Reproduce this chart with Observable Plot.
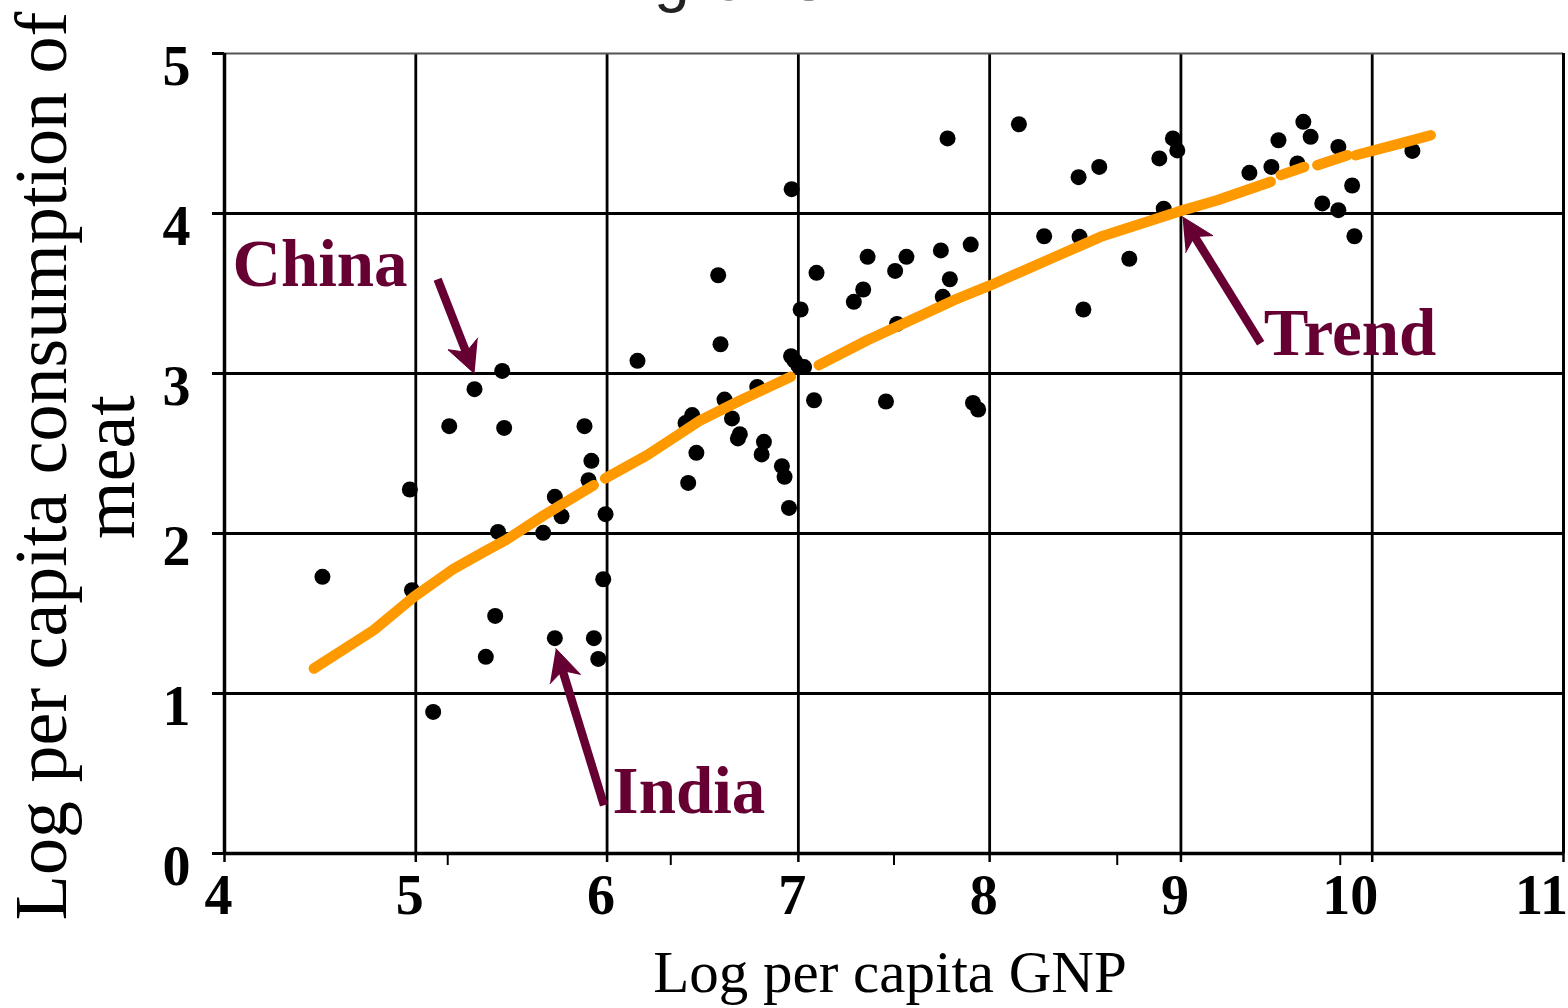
<!DOCTYPE html>
<html>
<head>
<meta charset="utf-8">
<script src="https://cdn.jsdelivr.net/npm/d3@7"></script>
<script src="https://cdn.jsdelivr.net/npm/@observablehq/plot@0.6"></script>
<style>
  html, body { margin: 0; padding: 0; background: #fff; }
  #wrap { position: relative; width: 1568px; height: 1008px; overflow: hidden; background: #fff; }
  #chart { position: absolute; left: 0; top: 0; }
  .lbl { position: absolute; white-space: nowrap; line-height: 1; color: #000; }
  .yt { font-family: "Liberation Serif", serif; font-size: 74px; transform: translate(-50%, -50%) rotate(-90deg); }
  #xtitle { font-family: "Liberation Serif", serif; font-size: 59px; transform: translateX(-50%); }
  #title { font-family: "Liberation Sans", sans-serif; font-size: 64px; color: #222; }
</style>
</head>
<body>
<div id="wrap">
  <div id="title" class="lbl" style="left:654px; top:-54px;">grows</div>
  <div id="chart"></div>
  <div class="lbl yt" style="left:41px; top:466px;">Log per capita consumption of</div>
  <div class="lbl yt" style="left:109px; top:467px;">meat</div>
  <div id="xtitle" class="lbl" style="left:890px; top:943px;">Log per capita GNP</div>
</div>
<script>
// ---- data ----
const xTicks = [4, 5, 6, 7, 8, 9, 10, 11];
const xLabelsA = [4, 5, 6, 7, 8, 9];
const xLabelsB = [10, 11];
const yTicks = [0, 1, 2, 3, 4, 5];
const xGrid = [5, 6, 7, 8, 9, 10];
const yGrid = [1, 2, 3, 4];
const secondaryTicks = [5.167, 6.333, 7.5, 8.667, 9.833];

const dotX = [5.452, 5.307, 6.159, 5.175, 5.462, 5.882, 6.445, 6.41, 4.969, 5.918,
  5.903, 5.992, 5.727, 5.762, 5.666, 5.43, 4.98, 4.512, 5.98, 5.415,
  5.727, 5.931, 5.366, 5.954, 5.091, 6.424, 6.467, 6.614, 6.653, 6.694,
  6.684, 6.82, 6.808, 6.914, 6.928, 6.951, 6.785, 7.082, 7.458, 7.913,
  7.94, 7.0, 6.98, 7.03, 6.965, 7.78, 8.153, 8.465, 8.573, 8.887,
  8.958, 8.981, 6.581, 7.095, 7.362, 7.565, 7.745, 7.901, 7.506, 7.792,
  7.339, 7.29, 7.012, 8.285, 8.73, 8.49, 6.593, 6.962, 7.516, 8.91,
  8.47, 7.755, 9.64, 9.51, 9.678, 9.823, 9.358, 9.473, 9.609, 10.21,
  9.895, 9.739, 9.823, 9.907];
const dotY = [3.016, 2.902, 3.079, 2.671, 2.660, 2.671, 2.74, 2.69, 2.275, 2.454,
  2.333, 2.121, 2.229, 2.108, 2.004, 2.01, 1.646, 1.729, 1.714, 1.485,
  1.346, 1.346, 1.229, 1.216, 0.885, 2.316, 2.504, 2.837, 2.719, 2.621,
  2.594, 2.573, 2.494, 2.421, 2.354, 2.16, 2.916, 2.833, 2.825, 2.816,
  2.775, 3.05, 3.08, 3.04, 4.152, 4.469, 4.558, 4.227, 4.291, 4.344,
  4.469, 4.394, 3.614, 3.629, 3.729, 3.729, 3.769, 3.806, 3.641, 3.589,
  3.525, 3.448, 3.4, 3.858, 3.717, 3.4, 3.183, 3.108, 3.31, 4.03,
  3.854, 3.479, 4.573, 4.458, 4.479, 4.416, 4.254, 4.291, 4.313, 4.391,
  4.175, 4.063, 4.021, 3.858];

const trendX = [4.467, 4.78, 4.99, 5.2, 5.356, 5.47, 5.67, 5.93,
  5.99, 6.21, 6.489, 6.698, 6.96,
  7.107, 7.36, 7.57, 7.813, 8.005, 8.301, 8.58, 8.981, 9.19, 9.469,
  9.522, 9.644,
  9.713, 9.87,
  9.913, 10.149, 10.306];
const trendY = [1.156, 1.396, 1.604, 1.781, 1.885, 1.958, 2.114, 2.302,
  2.344, 2.49, 2.708, 2.833, 2.979,
  3.052, 3.208, 3.323, 3.458, 3.552, 3.708, 3.854, 4.01, 4.083, 4.198,
  4.24, 4.291,
  4.302, 4.364,
  4.364, 4.438, 4.489];
const trendSeg = [1, 1, 1, 1, 1, 1, 1, 1,
  2, 2, 2, 2, 2,
  3, 3, 3, 3, 3, 3, 3, 3, 3, 3,
  4, 4,
  5, 5,
  6, 6, 6];

const noteText = ["China", "Trend", "India"];
const noteX = [4.042, 9.433, 6.029];
const noteY = [3.546, 3.115, 0.252];
const arrowX1 = [5.114, 9.417, 5.984];
const arrowY1 = [3.589, 3.189, 0.302];
const arrowX2 = [5.307, 9.008, 5.732];
const arrowY2 = [2.999, 3.979, 1.281];

// ---- chart ----
const maroon = "#660033";
const layout = {
  width: 1568, height: 1008,
  marginLeft: 224, marginRight: 5, marginTop: 53, marginBottom: 155,
  x: {domain: [4, 11]},
  y: {domain: [0, 5]}
};
const dots = dotX.map((x, i) => ({x, y: dotY[i]}));
const trend = trendX.map((x, i) => ({x, y: trendY[i], seg: trendSeg[i]}));
const notes = noteText.map((t, i) => ({t, x: noteX[i], y: noteY[i]}));

// arrowheads: filled notched triangles built with the plot's own scales
const probe = Plot.plot({...layout, marks: [Plot.frame()]});
const sx = probe.scale("x"), sy = probe.scale("y");
const heads = [], shafts = [];
arrowX1.forEach((ax1, i) => {
  const px1 = sx.apply(ax1), py1 = sy.apply(arrowY1[i]);
  const px2 = sx.apply(arrowX2[i]), py2 = sy.apply(arrowY2[i]);
  const len = Math.hypot(px2 - px1, py2 - py1);
  const ux = (px2 - px1) / len, uy = (py2 - py1) / len;
  const nx = -uy, ny = ux;
  const L = 32, W = 16, N = 0.72;
  const pts = [
    [px2, py2],
    [px2 - ux * L + nx * W, py2 - uy * L + ny * W],
    [px2 - ux * L * N, py2 - uy * L * N],
    [px2 - ux * L - nx * W, py2 - uy * L - ny * W]
  ];
  pts.forEach(([px, py]) => heads.push({id: i, x: sx.invert(px), y: sy.invert(py)}));
  shafts.push({x1: ax1, y1: arrowY1[i], x2: sx.invert(px2 - ux * L * N), y2: sy.invert(py2 - uy * L * N)});
});

const tickFont = {fontSize: 56, fontWeight: "bold", fontFamily: "'Liberation Serif', serif"};

const chart = Plot.plot({
  ...layout,
  style: {fontFamily: "'Liberation Serif', serif", background: "transparent", color: "black", overflow: "visible"},
  marks: [
    Plot.ruleX(xGrid, {stroke: "black", strokeWidth: 2.8}),
    Plot.ruleY(yGrid, {stroke: "black", strokeWidth: 2.8}),
    Plot.ruleY([5], {stroke: "#555", strokeWidth: 2}),
    Plot.ruleX([11], {stroke: "black", strokeWidth: 3}),
    Plot.axisX({ticks: secondaryTicks, tickSize: 12, tickFormat: () => "", label: null, strokeWidth: 2}),
    Plot.axisX({ticks: xTicks, tickSize: 9, tickFormat: () => "", label: null, strokeWidth: 2.5}),
    Plot.axisX({ticks: xLabelsA, tickSize: 0, tickPadding: 21, tickFormat: d => String(d), label: null, dx: -6, ...tickFont}),
    Plot.axisX({ticks: xLabelsB, tickSize: 0, tickPadding: 21, tickFormat: d => String(d), label: null, dx: -22, ...tickFont}),
    Plot.axisY({ticks: yTicks, tickSize: 12, tickFormat: () => "", label: null, strokeWidth: 3}),
    Plot.axisY({ticks: yTicks, tickSize: 0, tickPadding: 62, textAnchor: "start", tickFormat: d => String(d),
      label: null, dy: 14, ...tickFont}),
    Plot.ruleX([4], {stroke: "black", strokeWidth: 3.5}),
    Plot.ruleY([0], {stroke: "black", strokeWidth: 3.5}),
    Plot.dot(dots, {x: "x", y: "y", r: 8, fill: "black", stroke: null}),
    Plot.line(trend, {x: "x", y: "y", z: "seg", stroke: "#ff9900", strokeWidth: 10.5,
      strokeLinecap: "round", strokeLinejoin: "round"}),
    Plot.link(shafts, {x1: "x1", y1: "y1", x2: "x2", y2: "y2", stroke: maroon, strokeWidth: 8.5}),
    Plot.line(heads, {x: "x", y: "y", z: "id", fill: maroon, stroke: maroon, strokeWidth: 1, strokeLinejoin: "miter"}),
    Plot.text(notes, {x: "x", y: "y", text: "t", textAnchor: "start", lineAnchor: "bottom",
      fill: maroon, fontSize: 67, fontWeight: "bold", fontFamily: "'Liberation Serif', serif"})
  ]
});
document.getElementById("chart").appendChild(chart);
</script>
</body>
</html>
